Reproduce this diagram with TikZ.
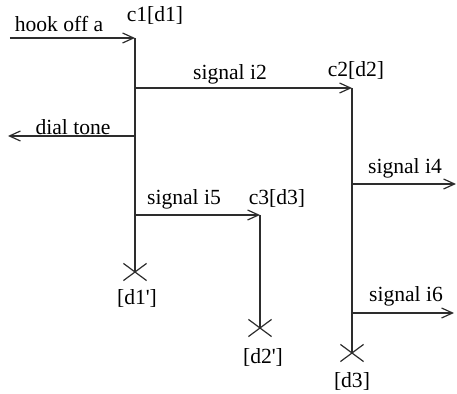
\documentclass[tikz,border=0pt]{standalone}
\usepackage{fontspec}
\setmainfont{Liberation Serif}
\usetikzlibrary{arrows.meta,shapes.misc}
\definecolor{lineInk}{RGB}{45, 45, 45}

\begin{document}
\begin{tikzpicture}[x=0.5pt, y=-0.5pt, >={Straight Barb[length=5.5pt, width=5pt]}]

  % Canvas
  \useasboundingbox (0,0) rectangle (457,394);

  % Styles for lifelines, messages, stop crosses and texts
  \tikzset{
    life/.style={draw=lineInk, line width=0.6pt},
    msg/.style={->, draw=lineInk, line width=0.6pt},
    stopcross/.style={cross out, draw=lineInk, line width=0.6pt,
      inner sep=0pt, minimum width=11pt, minimum height=8pt},
    lbl/.style={font=\fontsize{10.8}{13}\selectfont, inner sep=0pt}
  }

  % --- Instance heads ---
  \node[lbl] (c1) at (155, 15) {c1[d1]};
  \node[lbl] (c2) at (356, 70) {c2[d2]};
  \node[lbl] (c3) at (277, 198) {c3[d3]};

  % Lifeline start points
  \coordinate (c1top) at (135, 38);
  \coordinate (c2top) at (352, 88);
  \coordinate (c3top) at (260, 215);

  % Stop crosses
  \node[stopcross] (x1) at (135, 272) {};
  \node[stopcross] (x2) at (260, 328) {};
  \node[stopcross] (x3) at (352, 353) {};

  \node[lbl] (d1end) at (137, 298) {[d1\textquotesingle]};
  \node[lbl] (d2end) at (263, 357) {[d2\textquotesingle]};
  \node[lbl] (d3end) at (352, 381) {[d3]};

  % Lifelines
  \draw[life] (c1top) -- (x1.center);
  \draw[life] (c3top) -- (x2.center);
  \draw[life] (c2top) -- (x3.center);

  % --- Message end points ---
  \coordinate (envA)  at (10, 38);
  \coordinate (envB)  at (8, 136);
  \coordinate (envC)  at (456, 184);
  \coordinate (envD)  at (454, 313);

  \coordinate (c1m2) at (135, 88);
  \coordinate (c1m3) at (135, 136);
  \coordinate (c1m5) at (135, 215);
  \coordinate (c2m4) at (352, 184);
  \coordinate (c2m6) at (352, 313);

  % --- Messages ---
  \draw[msg] (envA) -- (c1top);
  \draw[msg] (c1m2) -- (c2top);
  \draw[msg] (c1m3) -- (envB);
  \draw[msg] (c2m4) -- (envC);
  \draw[msg] (c1m5) -- (c3top);
  \draw[msg] (c2m6) -- (envD);

  % Message names
  \node[lbl] (lA) at (59, 24)   {hook off a};
  \node[lbl] (lB) at (230, 74)  {signal i2};
  \node[lbl] (lC) at (73, 127)  {dial tone};
  \node[lbl] (lD) at (405, 168) {signal i4};
  \node[lbl] (lE) at (184, 199) {signal i5};
  \node[lbl] (lF) at (406, 296) {signal i6};

\end{tikzpicture}
\end{document}
